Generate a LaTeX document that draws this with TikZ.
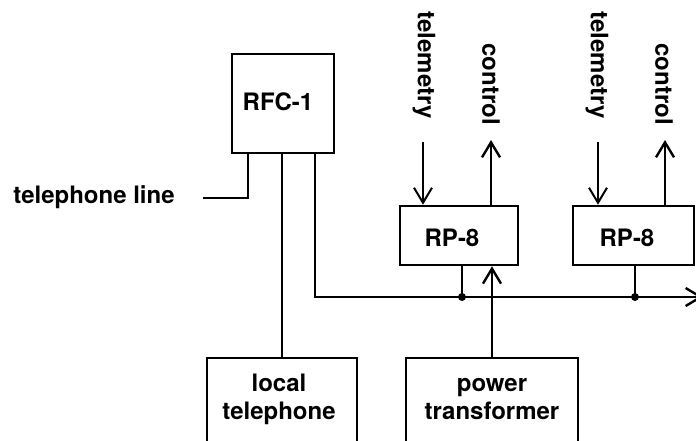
\documentclass[tikz,border=0pt]{standalone}
\usepackage{fontspec}
\setmainfont{TeX Gyre Heros}
\usetikzlibrary{arrows.meta}
\begin{document}
\begin{tikzpicture}[x=1pt,y=-1pt,
  box/.style={draw,line width=2.6pt,inner sep=0pt},
  lbl/.style={inner sep=0pt,font=\fontsize{24}{28}\selectfont\bfseries,align=center},
  wire/.style={line width=2.4pt},
  thin wire/.style={line width=2pt},
  tip/.style={-{Straight Barb[length=15pt,width=18pt]}}]
\useasboundingbox (0,0) rectangle (696,440);
% boxes
\node[box,minimum width=102pt,minimum height=99pt] (rfc) at (283,103.5) {};
\node[box,minimum width=118pt,minimum height=59pt] (rp1) at (459,235.5) {};
\node[box,minimum width=121pt,minimum height=59pt] (rp2) at (633.5,235.5) {};
\node[box,minimum width=150pt,minimum height=110pt] (loc) at (282,413) {};
\node[box,minimum width=172pt,minimum height=110pt] (pwr) at (492,413) {};
% box texts
\node[lbl] (rfct) at (278,102) {RFC-1};
\node[lbl] (rp1t) at (452,237.5) {RP-8};
\node[lbl] (rp2t) at (627,237.5) {RP-8};
\node[lbl] (loct) at (279,399) {local\\telephone};
\node[lbl] (pwrt) at (492,399) {power\\transformer};
\node[lbl] (tlt) at (94,197) {telephone line};
\node[lbl,rotate=-90] (tm1t) at (424,65) {telemetry};
\node[lbl,rotate=-90] (ct1t) at (491,84) {control};
\node[lbl,rotate=-90] (tm2t) at (597,65) {telemetry};
\node[lbl,rotate=-90] (ct2t) at (664,84) {control};
% coordinates
\coordinate (tl) at (203,198);
\coordinate (t1) at (248,198);
\coordinate (b0) at (315,297);
\coordinate (bend) at (703,297);
\coordinate (d1) at (462,297);
\coordinate (d2) at (635,297);
\coordinate (tm1) at (423,142);
\coordinate (ct1) at (491,140);
\coordinate (tm2) at (598,142);
\coordinate (ct2) at (665,140);
% connectors
\draw[wire] (rfc.south -| t1) -- (t1) -- (tl);
\draw[wire] (loc.north) -- (loc.north |- rfc.south);
\draw[wire,tip] (rfc.south -| b0) -- (b0) -- (bend);
\draw[wire] (rp1.south -| d1) -- (d1);
\draw[wire] (rp2.south -| d2) -- (d2);
\fill (d1) circle[radius=4pt];
\fill (d2) circle[radius=4pt];
\draw[wire,tip] (pwr.north) -- (pwr.north |- rp1.south);
\draw[thin wire,tip] (tm1) -- (tm1 |- rp1.north);
\draw[wire,tip] (ct1 |- rp1.north) -- (ct1);
\draw[thin wire,tip] (tm2) -- (tm2 |- rp2.north);
\draw[wire,tip] (ct2 |- rp2.north) -- (ct2);
\end{tikzpicture}
\end{document}
